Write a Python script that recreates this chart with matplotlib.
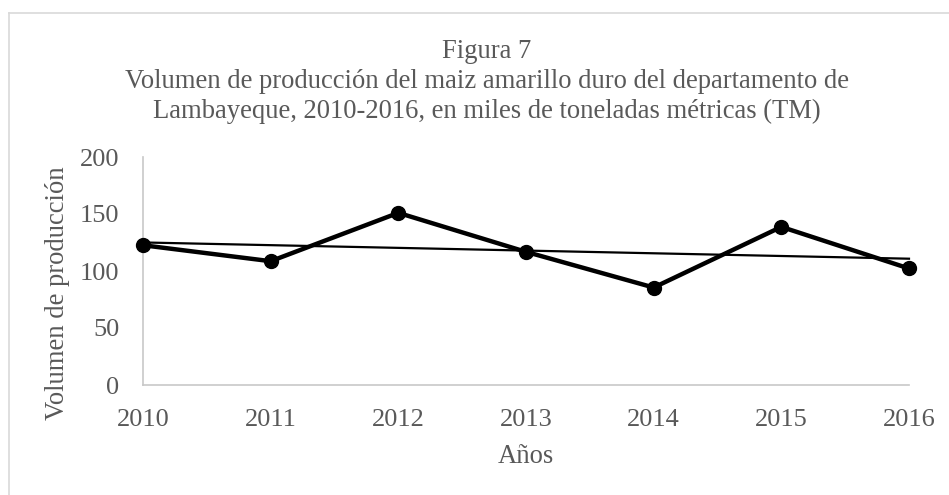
import matplotlib
matplotlib.use("Agg")
import matplotlib.pyplot as plt
from matplotlib.lines import Line2D
import numpy as np

# Datos (miles de TM)
anios = [2010, 2011, 2012, 2013, 2014, 2015, 2016]
volumen = [122.6, 108.6, 151.0, 116.8, 85.5, 138.7, 102.2]
y_ticks = [0, 50, 100, 150, 200]

titulo = ["Figura 7",
          "Volumen de producción del maiz amarillo duro del departamento de",
          "Lambayeque, 2010-2016, en miles de toneladas métricas (TM)"]

gris_texto = "#595959"
W, H = 949, 495

plt.rcParams['font.family'] = ['Liberation Serif', 'DejaVu Serif']

fig = plt.figure(figsize=(W / 100, H / 100), dpi=100)
ax = fig.add_axes([143 / W, (H - 385) / H, (909 - 143) / W, (385 - 157) / H])

# Serie y línea de tendencia lineal
ax.plot(anios, volumen, color="black", lw=3.2, marker="o", ms=10,
        clip_on=False, zorder=3)
coef = np.polyfit(anios, volumen, 1)
ax.plot(anios, np.polyval(coef, anios), color="black", lw=1.6,
        clip_on=False, zorder=2)

ax.set_xlim(2010, 2016)
ax.set_ylim(0, 200)
ax.set_xticks(anios)
ax.set_yticks(y_ticks)
for s in ["top", "right"]:
    ax.spines[s].set_visible(False)
for s in ["left", "bottom"]:
    ax.spines[s].set_color("#c8c8c8")
    ax.spines[s].set_linewidth(1.2)
ax.tick_params(axis="both", length=0, labelsize=19, colors=gris_texto)
ax.tick_params(axis="y", pad=17)
ax.tick_params(axis="x", pad=17)

# Títulos y etiquetas de ejes
ys = [58, 88, 118]
for t, yy in zip(titulo, ys):
    fig.text(487 / W, (H - yy) / H, t, ha="center", va="baseline",
             fontsize=19.2, color=gris_texto)
fig.text(57 / W, (H - 293) / H, "Volumen de producción", rotation=90,
         ha="center", va="center", fontsize=19.2, color=gris_texto)
fig.text(526 / W, (H - 463) / H, "Años", ha="center", va="baseline",
         fontsize=19.2, color=gris_texto)

# Borde del área del gráfico
fig.add_artist(Line2D([8.5 / W, 8.5 / W], [0, (H - 12.5) / H],
                      transform=fig.transFigure, color="#d9d9d9", lw=1.2))
fig.add_artist(Line2D([8.5 / W, 1], [(H - 12.5) / H, (H - 12.5) / H],
                      transform=fig.transFigure, color="#d9d9d9", lw=1.2))

fig.savefig("out.png", dpi=100)
